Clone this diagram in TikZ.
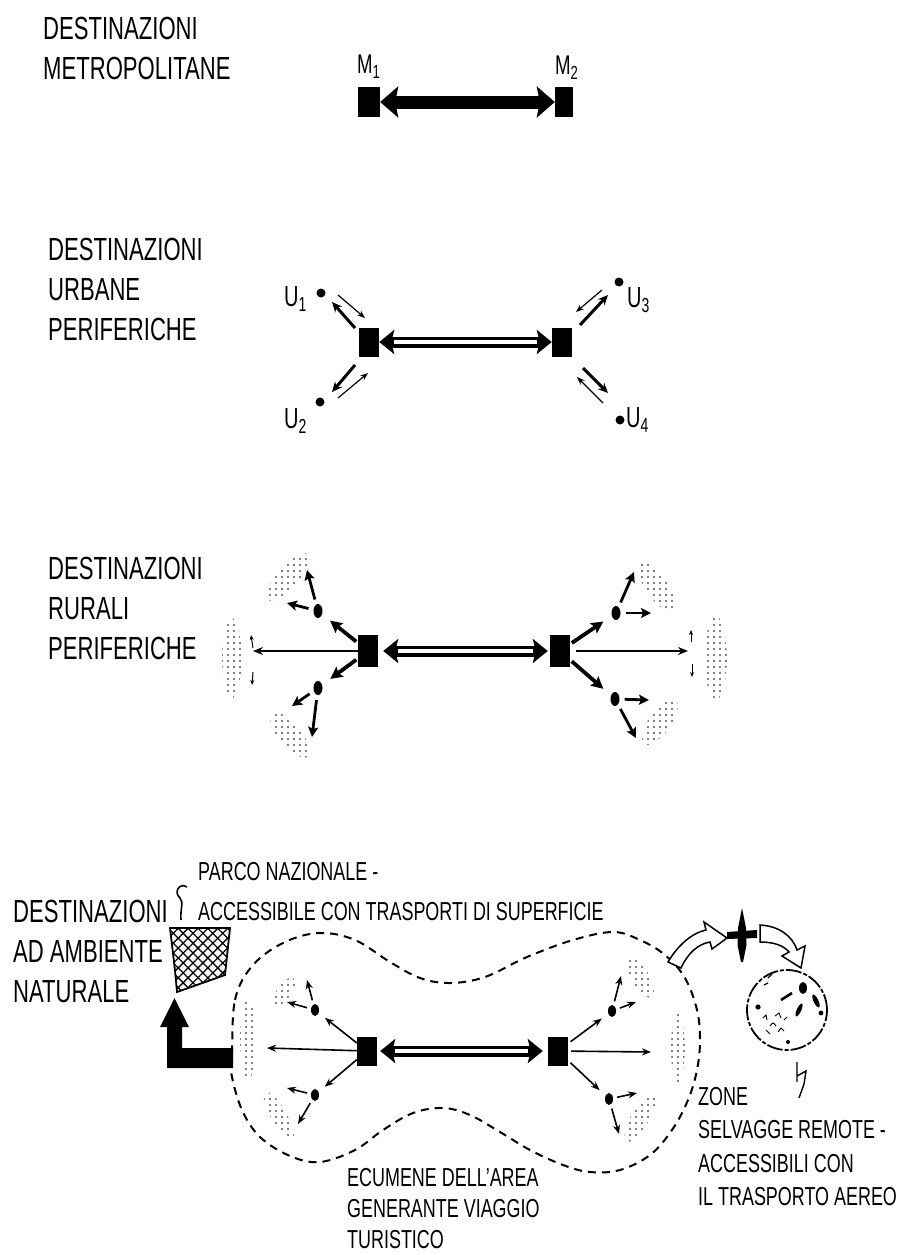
\documentclass[tikz,border=0pt]{standalone}
\usepackage{fontspec}
\setmainfont{Liberation Sans}[FakeStretch=0.69]
\usetikzlibrary{arrows.meta,patterns.meta,shapes.geometric}
\begin{document}
\begin{tikzpicture}[x=1pt,y=-1pt,
  lab/.style={anchor=north west, inner sep=0pt, align=left, font=\fontsize{32}{40}\selectfont},
  slab/.style={anchor=north west, inner sep=0pt, align=left},
  mlab/.style={anchor=north west, inner sep=0pt, font=\fontsize{27}{27}\selectfont},
  ulab/.style={anchor=north west, inner sep=0pt, font=\fontsize{29}{29}\selectfont},
  sq/.style={fill=black, minimum width=20pt, minimum height=30pt, inner sep=0pt},
  udot/.style={circle, fill=black, inner sep=0pt, minimum size=9pt},
  edot/.style={ellipse, fill=black, inner sep=0pt, minimum width=9pt, minimum height=14pt},
  bdot/.style={ellipse, fill=black, inner sep=0pt, minimum width=8pt, minimum height=12pt},
  tarr/.style={line width=1.2pt, -{Stealth[length=8pt,width=6pt]}},
  karr/.style={line width=3pt, -{Stealth[length=10pt,width=9pt]}},
  rarr/.style={line width=3.8pt, -{Stealth[length=12pt,width=12pt,inset=2pt]}},
  sarr/.style={line width=2.8pt, -{Stealth[length=10pt,width=10pt,inset=2pt]}},
  larr/.style={line width=1.5pt, -{Stealth[length=10pt,width=8pt]}},
  barr/.style={line width=1.6pt, -{Stealth[length=9pt,width=7pt]}},
  tick/.style={line width=1pt, -{Stealth[length=5pt,width=4pt]}},
  hollow/.style={line width=11pt, {Stealth[length=15pt,width=24pt,inset=3pt]}-{Stealth[length=15pt,width=24pt,inset=3pt]}},
  stip/.style={pattern={Dots[distance=6pt,radius=0.9pt]}, pattern color=black},
  ecum/.style={line width=2pt, dash pattern=on 8pt off 6pt}
]
\useasboundingbox (0,0) rectangle (898,1255);
\fill[white] (0,0) rectangle (898,1255);

% ---------- texts ----------
\node[lab] (t1) at (43,17) {DESTINAZIONI\\METROPOLITANE};
\node[lab] (t2) at (48,238) {DESTINAZIONI\\URBANE\\PERIFERICHE};
\node[lab] (t3) at (48,557) {DESTINAZIONI\\RURALI\\PERIFERICHE};
\node[lab] (t4) at (13,900) {DESTINAZIONI\\AD AMBIENTE\\NATURALE};
\node[slab, font=\fontsize{26}{40}\selectfont] (t5) at (198,862) {PARCO NAZIONALE -\\ACCESSIBILE CON TRASPORTI DI SUPERFICIE};
\node[slab, font=\fontsize{26}{33.5}\selectfont] (t6) at (698,1087) {ZONE\\SELVAGGE REMOTE -\\ACCESSIBILI CON\\IL TRASPORTO AEREO};
\node[slab, font=\fontsize{26}{31}\selectfont] (t7) at (347,1168) {ECUMENE DELL'AREA\\GENERANTE VIAGGIO\\TURISTICO};

% ---------- section 1 ----------
\node[mlab] (lm1) at (357,55) {M\textsubscript{1}};
\node[mlab] (lm2) at (555,56) {M\textsubscript{2}};
\node[sq, minimum width=22pt] (m1) at (369,102) {};
\node[sq, minimum width=18pt] (m2) at (564,102) {};
\draw[line width=13pt, {Stealth[length=18pt,width=31pt,inset=3pt]}-{Stealth[length=18pt,width=31pt,inset=3pt]}] (m1) -- (m2);

% ---------- section 2 ----------
\node[sq, minimum height=29pt] (ua) at (369,342) {};
\node[sq, minimum height=29pt] (ub) at (562,342) {};
\draw[hollow] (ua) -- (ub);
\draw[white, line width=4pt, shorten <=15pt, shorten >=15pt] (ua) -- (ub);
\node[udot] (u1) at (321,293) {};
\node[udot] (u2) at (320,402) {};
\node[udot] (u3) at (619,282) {};
\node[udot] (u4) at (620,420) {};
\node[ulab] (lu1) at (284,286) {U\textsubscript{1}};
\node[ulab] (lu2) at (284,408) {U\textsubscript{2}};
\node[ulab] (lu3) at (627,287) {U\textsubscript{3}};
\node[ulab] (lu4) at (626,407) {U\textsubscript{4}};
\draw[tarr] (338,295) -- (365,318);
\draw[karr] (355,328) -- (332,302);
\draw[karr] (355,365) -- (332,392);
\draw[tarr] (338,398) -- (368,373);
\draw[tarr] (602,290) -- (576,312);
\draw[karr] (580,325) -- (608,295);
\draw[karr] (583,368) -- (608,393);
\draw[tarr] (603,403) -- (577,377);

% ---------- section 3 ----------
\fill[stip, rotate around={50:(288,577)}] (288,577) ellipse (30pt and 11pt);
\fill[stip] (232,658) ellipse (10pt and 40pt);
\fill[stip, rotate around={-50:(290,735)}] (290,735) ellipse (28pt and 11pt);
\fill[stip, rotate around={-55:(657,587)}] (657,587) ellipse (30pt and 11pt);
\fill[stip] (716,658) ellipse (11pt and 42pt);
\fill[stip, rotate around={55:(660,722)}] (660,722) ellipse (27pt and 11pt);

\node[sq, minimum height=32pt] (ra) at (368,651) {};
\node[sq, minimum height=32pt] (rb) at (560,651) {};
\draw[hollow, shorten <=5pt, shorten >=2pt] (ra) -- (rb);
\draw[white, line width=4pt, shorten <=20pt, shorten >=17pt] (ra) -- (rb);
\node[edot] (rl1) at (318,611) {};
\node[edot] (rl2) at (318,688) {};
\node[edot] (rr1) at (616,613) {};
\node[edot] (rr2) at (615,699) {};
\draw[rarr, shorten <=2pt, shorten >=10pt] (ra) -- (rl1);
\draw[rarr, shorten <=2pt, shorten >=10pt] (ra) -- (rl2);
\draw[rarr, shorten <=2pt, shorten >=10pt] (rb) -- (rr1);
\draw[rarr, shorten <=2pt, shorten >=10pt] (rb) -- (rr2);
\draw[larr] (ra) -- (253,651);
\draw[larr, shorten <=6pt] (rb) -- (688,651);
\draw[sarr, shorten <=5pt] (rl1) -- (307,570);
\draw[sarr, shorten <=5pt] (rl1) -- (287,603);
\draw[sarr, shorten <=5pt] (rl2) -- (292,706);
\draw[sarr, shorten <=5pt] (rl2) -- (312,737);
\draw[sarr, shorten <=5pt] (rr1) -- (634,572);
\draw[sarr, shorten <=5pt] (rr1) -- (651,613);
\draw[sarr, shorten <=5pt] (rr2) -- (649,700);
\draw[sarr, shorten <=5pt] (rr2) -- (636,738);
\draw[tick] (253,648) -- (251,635);
\draw[tick] (253,672) -- (252,685);
\draw[tick] (691,642) -- (691,630);
\draw[tick] (692,664) -- (692,677);

% ---------- section 4 ----------
\draw[ecum] plot[smooth cycle, tension=0.6] coordinates {
 (232,1060) (235,1000) (253,965) (285,942) (320,933) (355,940) (390,962) (420,978)
 (450,983) (485,977) (527,957) (573,940) (613,932) (640,940) (665,955) (685,978)
 (697,1010) (700,1040) (697,1070) (688,1100) (672,1130) (650,1155) (620,1170)
 (590,1172) (563,1165) (530,1150) (500,1132) (470,1115) (443,1108) (413,1113)
 (383,1130) (355,1150) (320,1162) (290,1156) (260,1137) (242,1110) (232,1077)};

\fill[stip, rotate around={55:(284,992)}] (284,992) ellipse (17pt and 7pt);
\fill[stip] (248,1040) ellipse (8pt and 40pt);
\fill[stip, rotate around={-60:(279,1116)}] (279,1116) ellipse (27pt and 8pt);
\fill[stip, rotate around={-60:(640,977)}] (640,977) ellipse (23pt and 9pt);
\fill[stip] (678,1048) ellipse (7pt and 34pt);
\fill[stip, rotate around={60:(640,1118)}] (640,1118) ellipse (27pt and 9pt);

\node[sq, minimum height=29pt] (ba) at (367,1051) {};
\node[sq, minimum height=29pt] (bb) at (558,1051) {};
\draw[hollow, shorten <=3pt, shorten >=5pt] (ba) -- (bb);
\draw[white, line width=4pt, shorten <=18pt, shorten >=20pt] (ba) -- (bb);
\node[bdot] (bl1) at (315,1010) {};
\node[bdot] (bl2) at (315,1095) {};
\node[bdot] (br1) at (612,1011) {};
\node[bdot] (br2) at (609,1099) {};
\draw[barr] (ba) -- (267,1048);
\draw[barr, shorten <=3pt] (bb) -- (651,1052);
\draw[barr, shorten >=8pt] (ba) -- (bl1);
\draw[barr, shorten >=8pt] (ba) -- (bl2);
\draw[barr, shorten <=3pt, shorten >=8pt] (bb) -- (br1);
\draw[barr, shorten <=3pt, shorten >=8pt] (bb) -- (br2);
\draw[barr, shorten <=4pt] (bl1) -- (287,1002);
\draw[barr, shorten <=4pt] (bl1) -- (307,980);
\draw[barr, shorten <=4pt] (bl2) -- (287,1088);
\draw[barr, shorten <=4pt] (bl2) -- (298,1124);
\draw[barr, shorten <=4pt] (br1) -- (636,1002);
\draw[barr, shorten <=4pt] (br1) -- (621,976);
\draw[barr, shorten <=4pt] (br2) -- (637,1093);
\draw[barr, shorten <=4pt] (br2) -- (619,1134);

% national park parcel
\fill[pattern={Lines[angle=45,distance=7pt,line width=1.3pt]}] (170,928) -- (230,928) -- (225,975) -- (177,992) .. controls (175,970) .. (170,928) -- cycle;
\fill[pattern={Lines[angle=-45,distance=7pt,line width=1.3pt]}] (170,928) -- (230,928) -- (225,975) -- (177,992) .. controls (175,970) .. (170,928) -- cycle;
\draw[line width=1.8pt] (170,928) -- (230,928) -- (225,975) -- (177,992) .. controls (175,970) .. (170,928) -- cycle;
\draw[line width=1.6pt] (187,887) .. controls (180,882) and (173,892) .. (180,898) .. controls (184,902) and (180,910) .. (181,920);

% L arrow
\fill (167,1068) -- (233,1068) -- (233,1048) -- (182,1048) -- (182,1027) -- (189,1027) -- (174.5,998) -- (160,1027) -- (167,1027) -- cycle;

% hollow curved arrows and plane
\draw[line width=1.5pt, fill=white] (668,962) .. controls (678,945) and (692,933) .. (706,930) -- (704,922) -- (727,938) -- (712,949) -- (710,942) .. controls (698,944) and (688,953) .. (681,968) -- cycle;
\fill (742,908) -- (746,928) -- (746.5,945) -- (743,962) -- (741,962) -- (737.5,945) -- (738,928) -- cycle;
\fill (727,932) -- (757,930) -- (757,938) -- (727,939) -- cycle;
\draw[line width=1.5pt, fill=white] (760,925) .. controls (778,926) and (792,935) .. (797,950) -- (805,946) -- (801,968) -- (782,956) -- (789,952) .. controls (784,946) and (775,942) .. (760,942) -- cycle;

% remote zone globe
\coordinate (globe) at (787,1010);
\draw[line width=1.8pt, dash pattern=on 16pt off 2pt on 4pt off 2pt] (globe) circle (40pt);
\fill (803,988) ellipse (4pt and 6pt);
\fill (758,1007) circle (2.6pt);
\fill (821,1013) circle (2.4pt);
\fill (788,1042) circle (2pt);
\fill[rotate around={-65:(816,1001)}] (816,1001) ellipse (7pt and 2.4pt);
\fill[rotate around={65:(799,1010)}] (799,1010) ellipse (7pt and 2.2pt);
\draw[line width=2.6pt] (781,1000) -- (792,993);
\draw[line width=1.2pt] (768,978) -- (772,974) (764,985) -- (768,983);
\draw[line width=0.9pt] (763,1018) -- (766,1015) -- (767,1020) (770,1026) .. controls (773,1022) .. (776,1026) (775,1016) -- (779,1013) -- (781,1018) (766,1030) -- (770,1034) (778,1032) -- (781,1028) -- (784,1031) (784,1020) -- (787,1017);
\draw[line width=1.4pt] (797,1062) -- (797,1082) (797,1076) -- (806,1071) -- (804,1084) -- (799,1098);

\end{tikzpicture}
\end{document}
